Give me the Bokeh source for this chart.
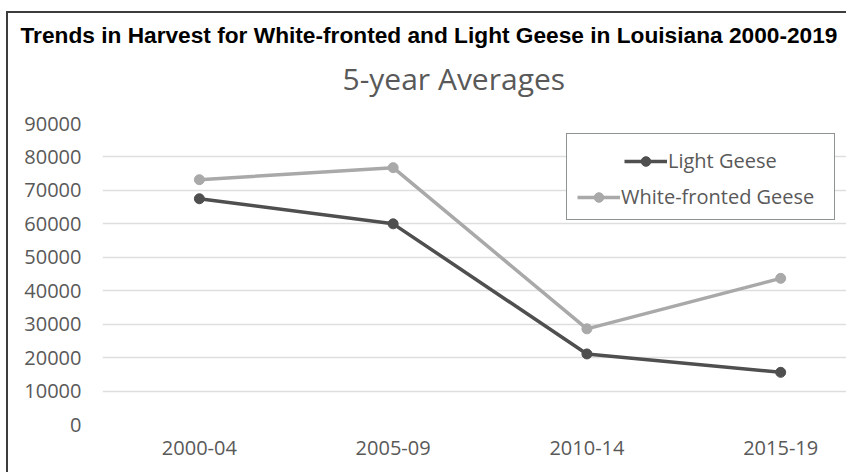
from bokeh.plotting import figure
from bokeh.models import (Range1d, FixedTicker, NumeralTickFormatter, Legend, LegendItem, Title)
from bokeh.embed import file_html
from bokeh.resources import INLINE

categories = ["2000-04", "2005-09", "2010-14", "2015-19"]
light_geese = [67500, 60000, 21100, 15600]
white_fronted = [73200, 76800, 28600, 43700]
y_ticks = [0, 10000, 20000, 30000, 40000, 50000, 60000, 70000, 80000, 90000]

xs = list(range(len(categories)))

GRAY_TXT = "#595959"
DARK = "#4f4f4f"
LIGHT = "#a9a9a9"

p = figure(width=840, height=461, output_backend="svg", toolbar_location=None,
           x_range=Range1d(-0.5, 3.35), y_range=Range1d(0, 90000),
           min_border_left=94, min_border_right=0, min_border_top=110, min_border_bottom=50)
p.margin = (11, 0, 0, 6)
p.styles = {"border-top": "2px solid #3c3c3c", "border-left": "2px solid #3c3c3c"}
p.outline_line_color = None
p.background_fill_color = "white"
p.border_fill_color = "white"

# Titles (a tiny blank title acts as spacer between the subtitle and the plot area)
spacer = Title(text=" ", text_font_size="1px", standoff=21, align="left")
p.add_layout(spacer, "above")
sub = Title(text="5-year Averages", text_font="Open Sans", text_font_size="30px",
            text_font_style="normal", text_color=GRAY_TXT, align="left", offset=240, standoff=2)
p.add_layout(sub, "above")
main = Title(text="Trends in Harvest for White-fronted and Light Geese in Louisiana 2000-2019",
             text_font="Liberation Sans", text_font_size="22.7px", text_font_style="bold",
             text_color="black", align="left", offset=-82, standoff=13)
p.add_layout(main, "above")

# Axes
p.xaxis.ticker = FixedTicker(ticks=xs)
p.xaxis.major_label_overrides = {i: c for i, c in zip(xs, categories)}
p.yaxis.ticker = FixedTicker(ticks=y_ticks)
p.yaxis.formatter = NumeralTickFormatter(format="0")
for ax in (p.xaxis, p.yaxis):
    ax.axis_line_color = None
    ax.major_tick_line_color = None
    ax.minor_tick_line_color = None
    ax.major_label_text_font = "Open Sans"
    ax.major_label_text_font_size = "20px"
    ax.major_label_text_color = GRAY_TXT
p.yaxis.major_label_standoff = 15
p.xaxis.major_label_standoff = 10
p.xgrid.grid_line_color = None
p.ygrid.grid_line_color = "#dedede"
p.ygrid.grid_line_width = 1.5

# Series
l_line = p.line(xs, light_geese, line_width=3.5, line_color=DARK)
l_pts = p.scatter(xs, light_geese, size=10, fill_color=DARK, line_color=DARK)
w_line = p.line(xs, white_fronted, line_width=3.5, line_color=LIGHT)
w_pts = p.scatter(xs, white_fronted, size=10, fill_color=LIGHT, line_color=LIGHT)

# Legend: box + two centered entries
dummy = p.line([], [], line_alpha=0)
box = Legend(items=[LegendItem(label=" ", renderers=[dummy])], location=(464, 204),
             padding=0, glyph_width=1, glyph_height=85, label_width=266, label_standoff=0,
             label_text_alpha=0, border_line_color="#1e2a22", border_line_width=1.5,
             background_fill_color="white", background_fill_alpha=1)
p.add_layout(box, "center")
leg_l = Legend(items=[LegendItem(label="Light Geese", renderers=[l_line, l_pts])], location=(522, 250),
               padding=0, glyph_width=43, glyph_height=24, label_height=24, label_standoff=1,
               label_text_font="Open Sans", label_text_font_size="20px", label_text_color=GRAY_TXT,
               border_line_color=None, background_fill_alpha=0)
p.add_layout(leg_l, "center")
leg_w = Legend(items=[LegendItem(label="White-fronted Geese", renderers=[w_line, w_pts])], location=(475, 214),
               padding=0, glyph_width=43, glyph_height=24, label_height=24, label_standoff=1,
               label_text_font="Open Sans", label_text_font_size="20px", label_text_color=GRAY_TXT,
               border_line_color=None, background_fill_alpha=0)
p.add_layout(leg_w, "center")

open("out.html", "w").write(file_html(p, INLINE))
